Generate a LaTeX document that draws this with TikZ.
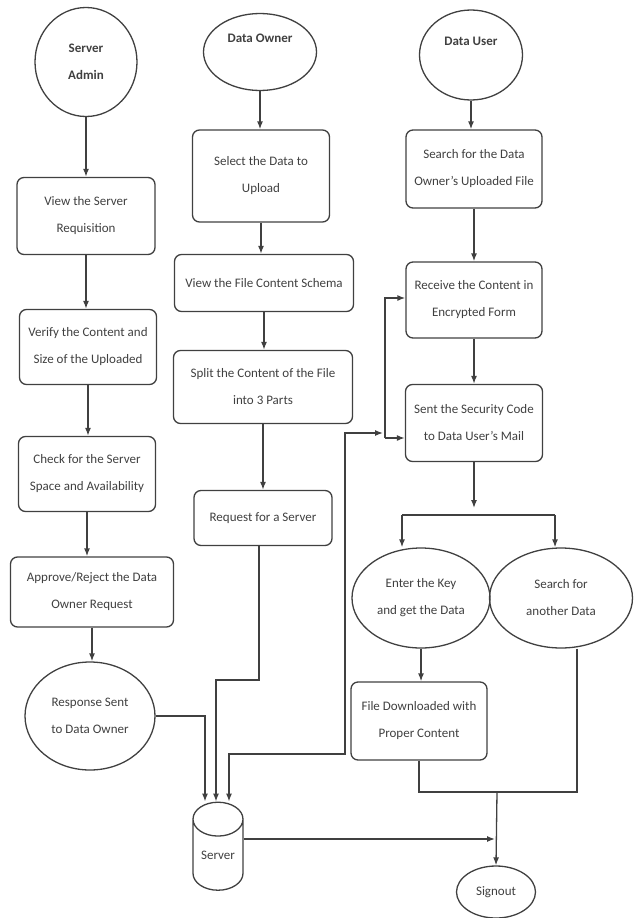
\documentclass[tikz,border=0pt]{standalone}
\usepackage{fontspec}
\setmainfont{Carlito}
\usetikzlibrary{shapes.geometric,arrows.meta}

\tikzset{
  box/.style 2 args={rectangle, draw=black!75, line width=1.3pt, rounded corners=7pt,
    align=center, inner sep=2pt, minimum width=#1, minimum height=#2},
  oval/.style 2 args={ellipse, draw=black!75, line width=1.3pt, align=center,
    inner sep=0pt, minimum width=#1, minimum height=#2},
  store/.style={cylinder, shape border rotate=90, aspect=1, draw=black!75,
    line width=1.3pt, minimum width=50, minimum height=88, inner sep=0pt},
  link/.style={->, draw=black!75, line width=1.3pt},
  wire/.style={draw=black!75, line width=1.3pt}
}

\begin{document}
\begin{tikzpicture}[x=1pt,y=-1pt, >={Latex[length=8pt,width=6pt]},
    every node/.style={text=black!75, font=\fontsize{13}{27}\selectfont}]
  \useasboundingbox (0,0) rectangle (634,918);

  % actors
  \node[oval={102}{109}] at (86,62) (admin) {\textbf{Server}\\\textbf{Admin}};
  \node[oval={113}{77}] at (260,52) (owner) {\textbf{Data Owner}\\~};
  \node[oval={103}{90}] at (471,55) (user) {\textbf{Data User}\\~};

  % server admin side
  \node[box={138}{77}] at (86,216) (view) {View the Server\\Requisition};
  \node[box={137}{75}] at (88,347) (verify) {Verify the Content and\\Size of the Uploaded};
  \node[box={137}{75}] at (87,474) (check) {Check for the Server\\Space and Availability};
  \node[box={163}{70}] at (92,592) (approve) {Approve/Reject the Data\\Owner Request};
  \node[oval={130}{108}] at (90,716) (response) {Response Sent\\to Data Owner};

  % data owner side
  \node[box={137}{92}] at (261,176) (select) {Select the Data to\\Upload};
  \node[box={179}{57}] at (264,283) (schema) {View the File Content Schema};
  \node[box={179}{73}] at (263,387) (split) {Split the Content of the File\\into 3 Parts};
  \node[box={138}{55}] at (263,518) (request) {Request for a Server};

  % data user side
  \node[box={136}{78}] at (474,169) (search) {Search for the Data\\Owner's Uploaded File};
  \node[box={136}{76}] at (474,300) (receive) {Receive the Content in\\Encrypted Form};
  \node[box={137}{77}] at (474,423) (sent) {Sent the Security Code\\to Data User's Mail};
  \node[oval={138}{100}] at (421,598) (key) {Enter the Key\\and get the Data};
  \node[oval={143}{100}] at (561,598) (another) {Search for\\another Data};
  \node[box={136}{78}] at (419,721) (download) {File Downloaded with\\Proper Content};

  \node[store] at (218,855) (server) {Server};
  \node[oval={79}{52}] at (496,892) (signout) {Signout};

  \coordinate (fork) at (385,438);
  \coordinate (tap) at (383,433);
  \coordinate (bend) at (345,754);
  \coordinate (drop) at (216,680);
  \coordinate (barL) at (402,515);
  \coordinate (barR) at (555,515);
  \coordinate (merge) at (497,792);

  % draw edges
  \draw[link] (admin.south) -- (view.north);
  \draw[link] (view.south) -- (view.south |- verify.north);
  \draw[link] (verify.south) -- (verify.south |- check.north);
  \draw[link] (check.south) -- (check.south |- approve.north);
  \draw[link] (approve.south) -- (approve.south |- response.north);
  \draw[link] (response.east) -| ([xshift=-13pt]server.north);

  \draw[link] (owner.south) -- (owner.south |- select.north);
  \draw[link] (select.south) -- (select.south |- schema.north);
  \draw[link] (schema.south) -- (schema.south |- split.north);
  \draw[link] (split.south) -- (split.south |- request.north);
  \draw[link] ([xshift=-4pt]request.south) |- (drop) -- (drop |- server.north);

  \draw[link] (user.south) -- (user.south |- search.north);
  \draw[link] (search.south) -- (search.south |- receive.north);
  \draw[link] (receive.south) -- (receive.south |- sent.north);
  \draw[link] (fork) |- ([yshift=2pt]receive.west);
  \draw[link] (fork) -- (fork -| sent.west);
  \draw[link, <->] ([xshift=11pt]server.north) |- (bend) |- (tap);

  \draw[link] (sent.south) -- ([yshift=7pt]sent.south |- barL);
  \draw[wire] (barL) -- (barR);
  \draw[link] (barL) -- (barL |- key.north);
  \draw[link] (barR) -- (barR |- another.north);
  \draw[link] (key.south) -- (key.south |- download.north);
  \draw[wire] (download.south) |- (merge);
  \draw[wire] ([xshift=16pt]another.south) |- (merge);
  \draw[link] (merge) -- (signout.north);
  \draw[link, shorten >=2pt] ([yshift=16pt]server.east) -- ([yshift=16pt]server.east -| merge);
\end{tikzpicture}
\end{document}
